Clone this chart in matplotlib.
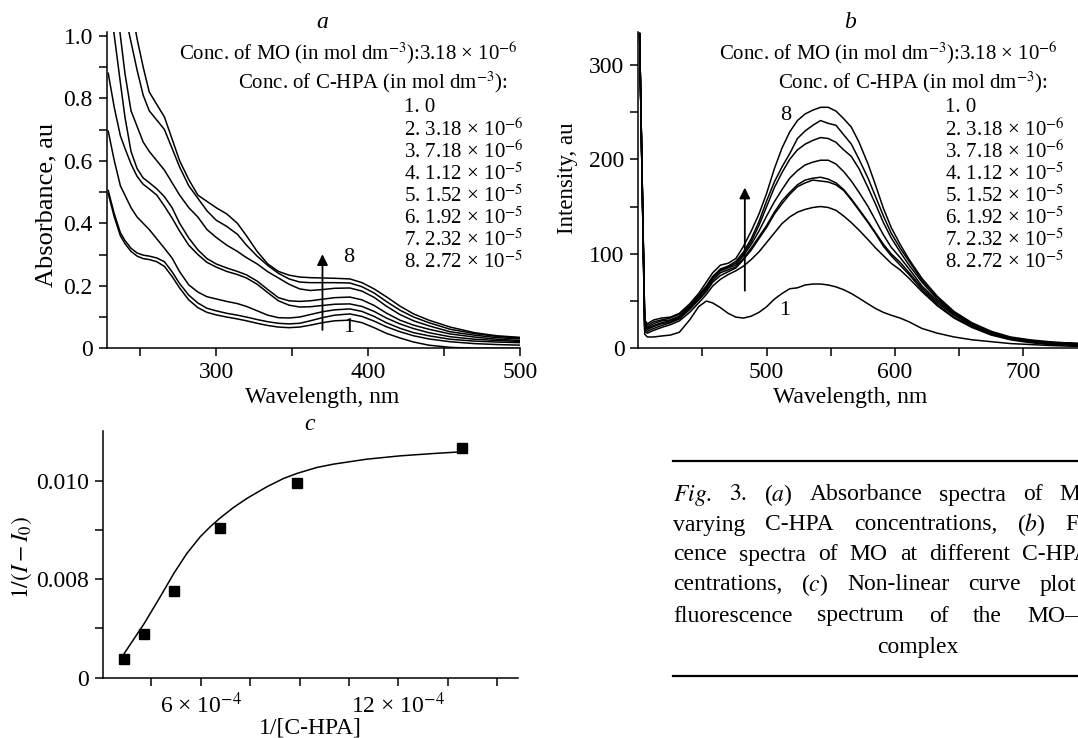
import matplotlib
matplotlib.use("Agg")
import matplotlib.pyplot as plt
from matplotlib.ticker import FixedLocator, FuncFormatter

plt.rcParams["font.family"] = ["Liberation Serif", "DejaVu Serif"]
plt.rcParams["mathtext.fontset"] = "stix"

W, H = 1078, 738

# ---------------- data: (a) absorbance spectra ----------------
wl_a = [229, 233, 237, 240, 244, 248, 252, 256, 261, 266, 271, 276, 282, 288,
        294, 300, 307, 314, 320, 327, 334, 341, 348, 355, 362, 370, 378, 388,
        396, 404, 412, 421, 430, 440, 454, 470, 485, 500]
abs_1 = [0.495, 0.42, 0.36, 0.335, 0.31, 0.295, 0.287, 0.284, 0.277, 0.262, 0.23,
         0.193, 0.155, 0.13, 0.115, 0.107, 0.1, 0.094, 0.088, 0.08, 0.073, 0.068,
         0.066, 0.068, 0.074, 0.082, 0.088, 0.09, 0.082, 0.066, 0.048, 0.033,
         0.02, 0.01, 0.003, 0.0, 0.0, 0.0]
abs_2 = [0.505, 0.43, 0.37, 0.345, 0.32, 0.305, 0.298, 0.295, 0.289, 0.277, 0.245,
         0.207, 0.17, 0.145, 0.128, 0.12, 0.112, 0.106, 0.1, 0.092, 0.085, 0.08,
         0.078, 0.08, 0.088, 0.098, 0.106, 0.11, 0.102, 0.087, 0.069, 0.053,
         0.04, 0.03, 0.021, 0.015, 0.012, 0.01]
abs_3 = [0.695, 0.6, 0.52, 0.49, 0.45, 0.42, 0.4, 0.38, 0.35, 0.32, 0.289, 0.245,
         0.203, 0.18, 0.165, 0.158, 0.15, 0.143, 0.134, 0.12, 0.106, 0.098,
         0.097, 0.1, 0.108, 0.117, 0.123, 0.126, 0.118, 0.102, 0.082, 0.064,
         0.05, 0.04, 0.029, 0.023, 0.02, 0.018]
abs_4 = [0.88, 0.77, 0.68, 0.64, 0.59, 0.55, 0.525, 0.51, 0.49, 0.455, 0.417,
         0.375, 0.33, 0.3, 0.275, 0.26, 0.246, 0.236, 0.225, 0.205, 0.178, 0.152,
         0.138, 0.132, 0.133, 0.137, 0.141, 0.142, 0.134, 0.118, 0.097, 0.078,
         0.063, 0.05, 0.037, 0.029, 0.025, 0.022]
abs_5 = [1.15, 1.0, 0.85, 0.74, 0.63, 0.575, 0.545, 0.53, 0.51, 0.485, 0.45, 0.4,
         0.353, 0.315, 0.287, 0.27, 0.257, 0.246, 0.235, 0.215, 0.188, 0.162,
         0.152, 0.15, 0.152, 0.157, 0.162, 0.164, 0.155, 0.137, 0.113, 0.09,
         0.074, 0.061, 0.046, 0.036, 0.029, 0.025]
abs_6 = [1.3, 1.15, 1.0, 0.88, 0.76, 0.71, 0.66, 0.63, 0.6, 0.57, 0.53, 0.49, 0.45,
         0.42, 0.38, 0.355, 0.33, 0.31, 0.29, 0.27, 0.245, 0.225, 0.205, 0.19,
         0.185, 0.188, 0.192, 0.193, 0.183, 0.163, 0.135, 0.108, 0.088, 0.072,
         0.053, 0.042, 0.034, 0.03]
abs_7 = [1.4, 1.28, 1.16, 1.07, 0.98, 0.89, 0.81, 0.76, 0.73, 0.7, 0.64, 0.58,
         0.52, 0.48, 0.44, 0.41, 0.39, 0.365, 0.33, 0.295, 0.265, 0.24, 0.222,
         0.212, 0.21, 0.21, 0.21, 0.209, 0.197, 0.177, 0.15, 0.122, 0.1, 0.082,
         0.061, 0.047, 0.038, 0.033]
abs_8 = [1.7, 1.5, 1.35, 1.25, 1.1, 0.99, 0.9, 0.82, 0.78, 0.74, 0.67, 0.6, 0.54,
         0.49, 0.47, 0.45, 0.43, 0.4, 0.36, 0.31, 0.27, 0.246, 0.234, 0.228,
         0.226, 0.225, 0.224, 0.222, 0.21, 0.19, 0.165, 0.135, 0.11, 0.09, 0.068,
         0.05, 0.04, 0.035]
absorbance = [abs_1, abs_2, abs_3, abs_4, abs_5, abs_6, abs_7, abs_8]

# ---------------- data: (b) fluorescence spectra ----------------
wl_b = [401, 405, 407, 412, 418, 425, 432, 440, 447, 453, 458, 464, 470, 476,
        482, 488, 494, 500, 506, 512, 518, 524, 530, 536, 542, 548, 554, 560,
        566, 572, 579, 585, 591, 597, 604, 611, 621, 633, 646, 660, 675, 690,
        705, 720, 742]
fl_1 = [333, 15, 12, 12, 13, 14, 17, 30, 44, 50, 48, 43, 37, 33, 32, 34, 38, 44,
        52, 58, 63, 64, 67, 68, 68, 67, 65, 62, 58, 53, 47, 42, 38, 35, 32, 28,
        21, 16, 12, 9, 7, 5, 4, 3, 2]
fl_2 = [333, 18, 16, 19, 22, 25, 29, 38, 48, 57, 66, 73, 78, 82, 87, 94, 102,
        112, 122, 132, 139, 144, 147, 149, 150, 149, 146, 140, 133, 125, 115,
        106, 98, 90, 83, 74, 60, 45, 32, 22, 14, 9, 6, 4, 3]
fl_3 = [333, 20, 18, 21, 24, 27, 31, 41, 51, 60, 70, 77, 81, 85, 94, 104, 116,
        128, 142, 153, 163, 171, 175, 178, 177, 176, 173, 167, 157, 146, 133,
        121, 108, 98, 88, 78, 62, 46, 33, 23, 15, 10, 7, 5, 4]
fl_4 = [333, 22, 20, 23, 26, 28, 32, 42, 52, 62, 72, 80, 83, 86, 95, 106, 118,
        130, 144, 156, 165, 173, 178, 180, 181, 179, 175, 168, 158, 147, 134,
        122, 110, 100, 91, 80, 64, 48, 35, 24, 16, 10, 7, 5, 4]
fl_5 = [333, 24, 21, 24, 27, 29, 33, 43, 54, 64, 74, 82, 85, 88, 98, 110, 124,
        140, 155, 168, 180, 188, 194, 197, 199, 199, 195, 187, 177, 165, 150,
        135, 120, 107, 96, 84, 66, 50, 36, 25, 16, 11, 8, 6, 5]
fl_6 = [333, 26, 22, 26, 29, 30, 34, 44, 55, 65, 75, 83, 86, 90, 100, 113, 130,
        150, 170, 186, 200, 210, 216, 220, 223, 222, 218, 210, 203, 190, 170,
        152, 133, 117, 102, 88, 70, 52, 37, 26, 17, 11, 8, 6, 5]
fl_7 = [333, 28, 24, 28, 30, 32, 36, 45, 56, 66, 76, 84, 87, 92, 102, 116, 134,
        156, 176, 192, 206, 222, 230, 236, 241, 238, 236, 226, 216, 200, 180,
        160, 140, 122, 106, 92, 72, 54, 38, 26, 17, 11, 8, 6, 5]
fl_8 = [333, 30, 26, 30, 32, 33, 37, 47, 58, 70, 80, 88, 90, 95, 108, 124, 142,
        164, 190, 212, 229, 241, 248, 252, 255, 255, 251, 243, 234, 218, 195,
        172, 148, 128, 110, 94, 74, 55, 39, 27, 18, 12, 9, 7, 5]
fluorescence = [fl_1, fl_2, fl_3, fl_4, fl_5, fl_6, fl_7, fl_8]

# ---------------- data: (c) non-linear fit ----------------
inv_hpa = [3.67e-4, 4.28e-4, 5.19e-4, 6.57e-4, 8.91e-4, 13.92e-4]
inv_di = [0.00636, 0.00688, 0.00775, 0.00904, 0.00997, 0.01068]
fit_x = [3.673e-4, 4.28e-4, 4.766e-4, 5.191e-4, 5.575e-4, 5.98e-4, 6.283e-4,
         6.567e-4, 6.992e-4, 7.396e-4, 8.003e-4, 8.509e-4, 8.914e-4, 9.521e-4,
         10.027e-4, 11.039e-4, 12.051e-4, 13.063e-4, 13.923e-4]
fit_y = [0.006478, 0.007092, 0.007638, 0.00813, 0.008526, 0.008867, 0.009072,
         0.009242, 0.009468, 0.009652, 0.009891, 0.010061, 0.010164, 0.010287,
         0.010355, 0.010457, 0.010525, 0.010573, 0.010608]

legend_items = ["1. 0",
                "2. 3.18 × 10$^{-6}$",
                "3. 7.18 × 10$^{-6}$",
                "4. 1.12 × 10$^{-5}$",
                "5. 1.52 × 10$^{-5}$",
                "6. 1.92 × 10$^{-5}$",
                "7. 2.32 × 10$^{-5}$",
                "8. 2.72 × 10$^{-5}$"]

caption_lines = [
    "$\\mathit{Fig}$. $\\mathit{3}$. ($\\mathit{a}$) Absorbance spectra of MO at",
    "varying C-HPA concentrations, ($\\mathit{b}$) Fluores-",
    "cence spectra of MO at different C-HPA con-",
    "centrations, ($\\mathit{c}$) Non-linear curve plot for the",
    "fluorescence spectrum of the MO—C-HPA",
]
# (word index, x pixel of that word) used to spread each justified line
caption_anchor = [(5, 1023), (3, 1017), (6, 1022), (4, 1040), (4, 1027)]


def fx(x):
    return x / W


def fy(y):
    return 1 - y / H


TICK = 17
LAB = 17
LEG = 15

fig = plt.figure(figsize=(W / 100, H / 100), dpi=100)


def style_axes(ax):
    for s in ("top", "right"):
        ax.spines[s].set_visible(False)
    for s in ("left", "bottom"):
        ax.spines[s].set_linewidth(1.1)
    ax.tick_params(which="both", direction="out", length=6, width=1.1,
                   labelsize=TICK, pad=4)


# ---------------- panel a ----------------
ax_a = fig.add_axes([fx(106.7), fy(348.3), fx(520 - 106.7), (348.3 - 31.7) / H])
for ys in absorbance:
    ax_a.plot(wl_a, ys, color="black", lw=1.1)
ax_a.set_xlim(228, 500)
ax_a.set_ylim(0, 1.013)
ax_a.xaxis.set_major_locator(FixedLocator([300, 400, 500]))
ax_a.xaxis.set_minor_locator(FixedLocator([250, 350, 450]))
ax_a.yaxis.set_major_locator(FixedLocator([0, 0.2, 0.4, 0.6, 0.8, 1.0]))
ax_a.yaxis.set_minor_locator(FixedLocator([0.1, 0.3, 0.5, 0.7, 0.9]))
ax_a.yaxis.set_major_formatter(FuncFormatter(lambda v, p: "0" if v == 0 else f"{v:.1f}"))
style_axes(ax_a)
ax_a.annotate("", xy=(370, 0.31), xytext=(370, 0.05),
              arrowprops=dict(arrowstyle="-|>", color="black", lw=1.3,
                              mutation_scale=16))
ax_a.text(387, 0.29, "8", fontsize=LEG + 1, ha="center", va="center")
ax_a.text(387, 0.065, "1", fontsize=LEG + 1, ha="center", va="center")

# ---------------- panel b ----------------
ax_b = fig.add_axes([fx(638.3), fy(348.3), fx(1078 - 638.3), (348.3 - 31.7) / H])
for ys in fluorescence:
    ax_b.plot(wl_b, ys, color="black", lw=1.1)
ax_b.set_xlim(400, 742.6)
ax_b.set_ylim(0, 335)
ax_b.xaxis.set_major_locator(FixedLocator([500, 600, 700]))
ax_b.xaxis.set_minor_locator(FixedLocator([450, 550, 650]))
ax_b.yaxis.set_major_locator(FixedLocator([0, 100, 200, 300]))
ax_b.yaxis.set_minor_locator(FixedLocator([50, 150, 250]))
style_axes(ax_b)
ax_b.annotate("", xy=(483, 173), xytext=(483, 58),
              arrowprops=dict(arrowstyle="-|>", color="black", lw=1.3,
                              mutation_scale=16))
ax_b.text(515, 246, "8", fontsize=LEG + 1, ha="center", va="center")
ax_b.text(514, 40, "1", fontsize=LEG + 1, ha="center", va="center")

# ---------------- panel c ----------------
ax_c = fig.add_axes([fx(102.7), fy(678.3), fx(518.3 - 102.7), (678.3 - 430.7) / H])
ax_c.plot(fit_x, fit_y, color="black", lw=1.1)
ax_c.plot(inv_hpa, inv_di, ls="none", marker="s", ms=7, color="black")
ax_c.set_xlim(3.02e-4, 15.64e-4)
ax_c.set_ylim(0.00597, 0.01104)
ax_c.xaxis.set_major_locator(FixedLocator([6e-4, 12e-4]))
ax_c.xaxis.set_minor_locator(FixedLocator([4.5e-4, 7.5e-4, 9e-4, 10.5e-4, 13.5e-4, 15e-4]))
ax_c.set_xticklabels(["6 × 10$^{-4}$", "12 × 10$^{-4}$"])
ax_c.yaxis.set_major_locator(FixedLocator([0.00597, 0.008, 0.010]))
ax_c.yaxis.set_minor_locator(FixedLocator([0.007, 0.009]))
ax_c.set_yticklabels(["0", "0.008", "0.010"])
style_axes(ax_c)

# ---------------- labels ----------------
fig.text(fx(46), fy(205), "Absorbance, au", rotation=90, fontsize=19, ha="center", va="center")
fig.text(fx(322), fy(397), "Wavelength, nm", fontsize=LAB, ha="center", va="center")
fig.text(fx(568), fy(178), "Intensity, au", rotation=90, fontsize=16.5, ha="center", va="center")
fig.text(fx(850), fy(397), "Wavelength, nm", fontsize=LAB, ha="center", va="center")
fig.text(fx(22), fy(557), "$1/(I - I_0)$", rotation=90, fontsize=LAB, ha="center", va="center")
fig.text(fx(310), fy(728), "1/[C-HPA]", fontsize=LAB, ha="center", va="center")

fig.text(fx(322), fy(23), "a", style="italic", fontsize=LAB, ha="center", va="center")
fig.text(fx(850), fy(23), "b", style="italic", fontsize=LAB, ha="center", va="center")
fig.text(fx(310), fy(424), "c", style="italic", fontsize=LAB, ha="center", va="center")

item_y = [107, 130, 152, 174, 196, 218, 240, 262]
for x_right1, x_right2, x_items in ((518, 507, 404), (1058, 1047, 945)):
    fig.text(fx(x_right1), fy(53), "Conc. of MO (in mol dm$^{-3}$):3.18 × 10$^{-6}$",
             fontsize=LEG, ha="right", va="center")
    fig.text(fx(x_right2), fy(82), "Conc. of C-HPA (in mol dm$^{-3}$):",
             fontsize=LEG, ha="right", va="center")
    for label, yy in zip(legend_items, item_y):
        fig.text(fx(x_items), fy(yy), label, fontsize=LEG, ha="left", va="center")

# ---------------- caption (justified, runs off the right edge) ----------------
CAP = 17
col_left = 673
fig.add_artist(plt.Line2D([fx(col_left), 1.0], [fy(461), fy(461)], color="black", lw=1.6))
fig.add_artist(plt.Line2D([fx(col_left), 1.0], [fy(676), fy(676)], color="black", lw=1.6))
renderer = fig.canvas.get_renderer()
line_y = [495, 525, 555, 585, 616]
for line, yy, (k, xk) in zip(caption_lines, line_y, caption_anchor):
    words = line.split(" ")
    texts = [fig.text(0, 0, w, fontsize=CAP, ha="left", va="center") for w in words]
    widths = [t.get_window_extent(renderer).width for t in texts]
    gap = (xk - col_left - sum(widths[:k])) / k
    x = col_left
    for t, w in zip(texts, widths):
        if x < W - 2:
            t.set_position((fx(x), fy(yy)))
        else:
            t.remove()
        x += w + gap
fig.text(fx(918), fy(648), "complex", fontsize=CAP, ha="center", va="center")

fig.savefig("out.png", dpi=100)
